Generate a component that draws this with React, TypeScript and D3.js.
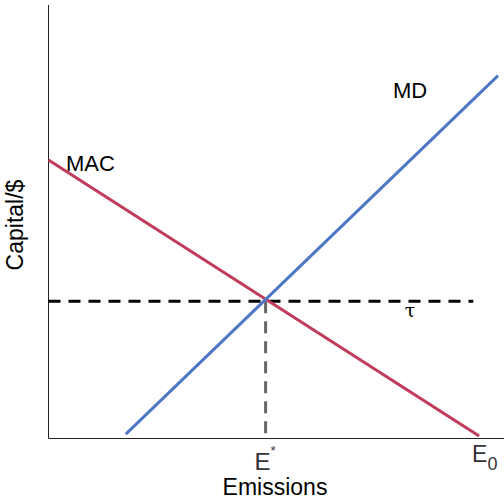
import React, { useEffect, useRef } from "react";
import * as d3 from "d3";

// Curves in data units (x: emissions 0-100, y: capital 0-100)
const macX = [0, 95.8];
const macY = [64.3, 0.6];
const mdX = [17.2, 100];
const mdY = [1, 83.8];
const tau = 31.7;
const eStar = 48.3;
const eZero = 95.8;

const W = 504;
const H = 504;

export default function App() {
    const svgRef = useRef<SVGSVGElement | null>(null);

    useEffect(() => {
        const svg = d3.select(svgRef.current);
        svg.selectAll("*").remove();

        const x = d3.scaleLinear().domain([0, 100]).range([48.5, 498]);
        const y = d3.scaleLinear().domain([0, 100]).range([438.5, 5.5]);
        const font = "Liberation Sans, Arial, sans-serif";

        // axes
        svg.append("line")
            .attr("x1", x(0)).attr("x2", x(0))
            .attr("y1", 5).attr("y2", y(0))
            .attr("stroke", "#222").attr("stroke-width", 1);
        svg.append("line")
            .attr("x1", x(0)).attr("x2", W)
            .attr("y1", y(0)).attr("y2", y(0))
            .attr("stroke", "#222").attr("stroke-width", 1);

        const line = d3.line<[number, number]>()
            .x((d) => x(d[0]))
            .y((d) => y(d[1]));

        // tau line
        svg.append("path")
            .datum([[0, tau], [94.5, tau]] as [number, number][])
            .attr("d", line)
            .attr("fill", "none")
            .attr("stroke", "#000")
            .attr("stroke-width", 3)
            .attr("stroke-dasharray", "12,8");

        // E* drop line
        svg.append("path")
            .datum([[eStar, tau], [eStar, 0]] as [number, number][])
            .attr("d", line)
            .attr("fill", "none")
            .attr("stroke", "#666")
            .attr("stroke-width", 3)
            .attr("stroke-dasharray", "12,8");

        // MAC
        svg.append("path")
            .datum(macX.map((v, i) => [v, macY[i]]) as [number, number][])
            .attr("d", line)
            .attr("fill", "none")
            .attr("stroke", "#c13b5b")
            .attr("stroke-width", 3);

        // MD
        svg.append("path")
            .datum(mdX.map((v, i) => [v, mdY[i]]) as [number, number][])
            .attr("d", line)
            .attr("fill", "none")
            .attr("stroke", "#4d77c5")
            .attr("stroke-width", 3);

        const text = (tx: number, ty: number, s: string, size = 22, anchor = "start", fill = "#000") =>
            svg.append("text")
                .attr("x", tx).attr("y", ty)
                .attr("font-family", font)
                .attr("font-size", size)
                .attr("text-anchor", anchor)
                .attr("fill", fill)
                .text(s);

        text(66, 171, "MAC");
        text(393, 98, "MD");
        svg.append("text")
            .attr("x", 410).attr("y", 317)
            .attr("font-family", "DejaVu Serif, serif")
            .attr("font-size", 19)
            .attr("text-anchor", "middle")
            .text("τ");

        // E* label
        const es = text(x(eStar) - 11, 470, "E", 24, "start", "#333");
        es.append("tspan").attr("dy", -15).attr("font-size", 13).text("*");
        const e0 = text(x(eZero) - 7, 462, "E", 23, "start", "#333");
        e0.append("tspan").attr("dy", 8).attr("font-size", 18).text("0");

        text(275, 495, "Emissions", 23, "middle");
        svg.append("text")
            .attr("transform", `translate(23,225) rotate(-90)`)
            .attr("font-family", font)
            .attr("font-size", 23)
            .attr("text-anchor", "middle")
            .text("Capital/$");
    }, []);

    return (
        <svg
            ref={svgRef}
            width={W}
            height={H}
            style={{ position: "absolute", left: 0, top: 0, background: "#fff" }}
        />
    );
}
